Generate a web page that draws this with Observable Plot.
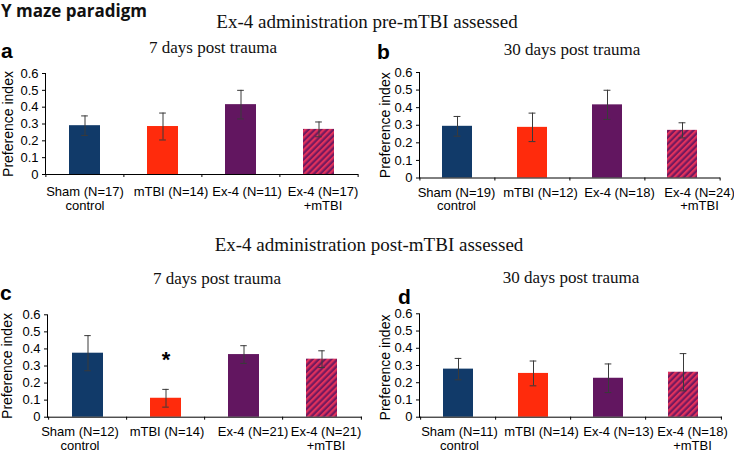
<!DOCTYPE html>
<html><head><meta charset="utf-8">
<script src="https://cdn.jsdelivr.net/npm/d3@7"></script>
<script src="https://cdn.jsdelivr.net/npm/@observablehq/plot@0.6"></script>
<style>
body{margin:0;background:#fff}
#root{position:relative;width:734px;height:453px;overflow:hidden;background:#fff;font-family:"Liberation Sans",Arial,sans-serif}
.t{position:absolute;white-space:nowrap;line-height:1}
.serif{font-family:"Liberation Serif",serif;color:#111}
.c{transform:translateX(-50%)}
.letter{font-weight:bold;font-size:21px;color:#000;line-height:0.8}
.p{position:absolute}
</style></head><body>
<svg width="0" height="0" style="position:absolute">
  <defs>
    <pattern id="hatch" patternUnits="userSpaceOnUse" width="4.4" height="4.4" patternTransform="rotate(45)">
      <rect width="4.4" height="4.4" fill="#74195e"></rect>
      <rect width="2.2" height="4.4" fill="#e0315c"></rect>
    </pattern>
  </defs>
</svg>
<div id="root">
  <div class="t" style="left:1px;top:2px;font-family:'Open Sans',sans-serif;font-weight:700;font-size:17px;color:#111">Y maze paradigm</div>
  <div class="t serif c" style="left:367px;top:12px;font-size:19px">Ex-4 administration pre-mTBI assessed</div>
  <div class="t serif c" style="left:369px;top:235px;font-size:19px">Ex-4 administration post-mTBI assessed</div>
  <div class="t serif c" style="left:213px;top:39px;font-size:17px">7 days post trauma</div>
  <div class="t serif c" style="left:572px;top:41px;font-size:17px">30 days post trauma</div>
  <div class="t serif c" style="left:217px;top:270px;font-size:17px">7 days post trauma</div>
  <div class="t serif c" style="left:571px;top:269px;font-size:17px">30 days post trauma</div>
  <div class="t letter" style="left:1px;top:43px">a</div>
  <div class="t letter" style="left:377px;top:44px">b</div>
  <div class="t letter" style="left:0px;top:285px">c</div>
  <div class="t letter" style="left:398px;top:289px">d</div>
  <div class="p" id="pa" style="left:0px;top:60px"></div>
  <div class="p" id="pb" style="left:367px;top:60px"></div>
  <div class="p" id="pc" style="left:0px;top:300px"></div>
  <div class="p" id="pd" style="left:367px;top:300px"></div>
</div>
<script>
// ---- data ----
const groups = ["Sham", "mTBI", "Ex-4", "Ex-4 +mTBI"];
const groupLine1 = ["Sham", "mTBI", "Ex-4", "Ex-4"];
const groupLine2 = ["control", "", "", "+mTBI"];
const groupColors = ["#113a69", "#ff2b0c", "#621660", "url(#hatch)"];
const yTicks = [0, 0.1, 0.2, 0.3, 0.4, 0.5, 0.6];
const yTitle = "Preference index";

// a: pre-mTBI, 7 days
const meanA = [0.290, 0.285, 0.415, 0.268];
const semA  = [0.058, 0.080, 0.085, 0.044];
const nA    = [17, 14, 11, 17];
// b: pre-mTBI, 30 days
const meanB = [0.294, 0.288, 0.416, 0.271];
const semB  = [0.056, 0.081, 0.083, 0.043];
const nB    = [19, 12, 18, 24];
// c: post-mTBI, 7 days
const meanC = [0.375, 0.111, 0.367, 0.340];
const semC  = [0.103, 0.052, 0.052, 0.049];
const nC    = [12, 14, 21, 21];
// d: post-mTBI, 30 days
const meanD = [0.279, 0.254, 0.226, 0.261];
const semD  = [0.062, 0.072, 0.083, 0.108];
const nD    = [11, 14, 13, 18];
// significance markers
const sigC = ["mTBI"];

function panel(el, means, sems, ns, sig, geo) {
  const data = groups.map((g, i) => ({g, mean: means[i], lo: means[i] - sems[i], hi: means[i] + sems[i]}));
  const labelOf = Object.fromEntries(groups.map((g, i) =>
    [g, `${groupLine1[i]} (N=${ns[i]})` + (groupLine2[i] ? "\n" + groupLine2[i] : "")]));
  const step = (geo.width - geo.ml - geo.mr) / groups.length;
  const bw = step * 0.4;
  const capW = 7;
  const errStroke = "#3a3a3a";
  const labelAxes = groups.map((g, i) =>
    Plot.axisX({ticks: [g], tickSize: 0, tickPadding: geo.tp, tickFormat: d => labelOf[d], dx: geo.lx[i],
      fontSize: 13, lineHeight: 1.05, label: null}));
  const chart = Plot.plot({
    width: geo.width, height: geo.height,
    marginLeft: geo.ml, marginRight: geo.mr, marginTop: geo.mt, marginBottom: geo.mb,
    style: {fontFamily: "'Liberation Sans', Arial, sans-serif", fontSize: "13px", color: "#000", background: "transparent", overflow: "visible"},
    x: {domain: groups, paddingInner: 0.6, paddingOuter: 0.3, axis: null},
    y: {domain: [0, 0.6], axis: null},
    color: {domain: groups, range: groupColors},
    marks: [
      Plot.barY(data, {x: "g", y: "mean", fill: "g"}),
      Plot.ruleX(data, {x: "g", y1: "lo", y2: "hi", stroke: errStroke, strokeWidth: 1}),
      Plot.tickY(data, {x: "g", y: "hi", stroke: errStroke, strokeWidth: 1, inset: (bw - capW) / 2}),
      Plot.tickY(data, {x: "g", y: "lo", stroke: errStroke, strokeWidth: 1, inset: (bw - capW) / 2}),
      Plot.text(data.filter(d => sig.includes(d.g)), {x: "g", y: "hi", text: () => "*", dy: -29, fontSize: 22, fontWeight: "bold"}),
      Plot.axisY({ticks: yTicks, tickFormat: d => d === 0 ? "0" : d.toFixed(1), tickSize: 3, tickPadding: 4,
        fontSize: 13, label: null}),
      Plot.text([yTitle], {frameAnchor: "left", rotate: -90, textAnchor: "middle", lineAnchor: "top", dx: -geo.lo, dy: geo.ly, fontSize: 14}),
      Plot.frame({anchor: "left", stroke: "#000"}),
      Plot.ruleY([0], {stroke: "#000"}),
      Plot.axisX({ticks: groups, tickSize: 3, tickFormat: () => "", dx: -step / 2, label: null}),
      Plot.axisX({ticks: [groups[groups.length - 1]], tickSize: 3, tickFormat: () => "", dx: step / 2, label: null}),
      ...labelAxes
    ]
  });
  document.getElementById(el).appendChild(chart);
}

panel("pa", meanA, semA, nA, [], {width: 365, height: 155, ml: 45, mr: 7, mt: 13, mb: 41, lo: 42, ly: 0, tp: 12, lx: [0, 8, 6, 4]});
panel("pb", meanB, semB, nB, [], {width: 367, height: 160, ml: 52, mr: 14, mt: 12, mb: 42.5, lo: 39, ly: 0, tp: 9, lx: [-1, 8, 12, 17]});
panel("pc", meanC, semC, nC, sigC, {width: 365, height: 153, ml: 47, mr: 3, mt: 14.3, mb: 36.3, lo: 45, ly: 0, tp: 9, lx: [-8, 1, 9, 4]});
panel("pd", meanD, semD, nD, [], {width: 367, height: 153, ml: 52, mr: 12, mt: 13.3, mb: 36.3, lo: 39, ly: 2, tp: 9, lx: [1, 8, 10, 9]});
</script>
</body></html>
